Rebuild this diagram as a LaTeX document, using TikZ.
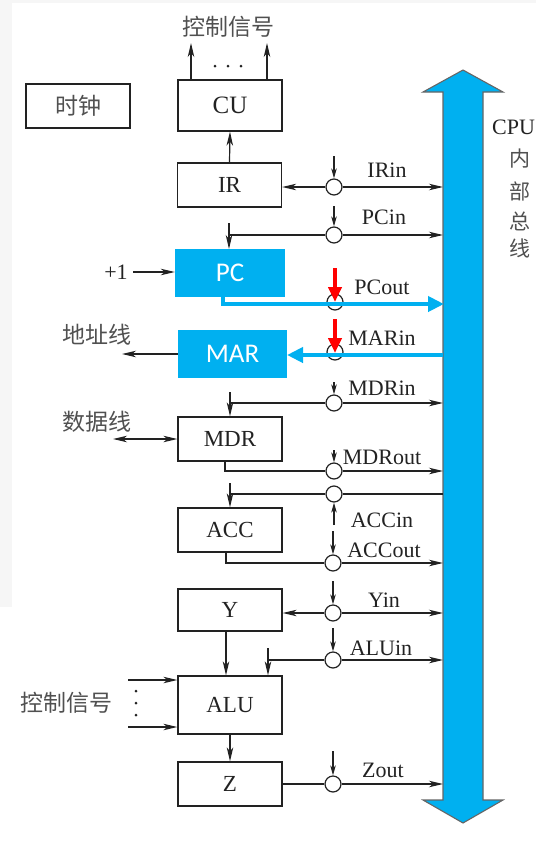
\documentclass[tikz,border=0pt]{standalone}
\usepackage{fontspec}
\setmainfont{Liberation Serif}
\newfontfamily\cjk{Noto Sans CJK SC}
\newfontfamily\calfont{Carlito}
\usetikzlibrary{arrows.meta}
\definecolor{busblue}{HTML}{00B0F0}
\definecolor{txtgray}{HTML}{505050}
\definecolor{lblack}{HTML}{222222}
\begin{document}
\begin{tikzpicture}[x=1pt,y=-1pt,
  reg/.style={draw=lblack, line width=1.3pt, minimum width=104pt, minimum height=44pt, inner sep=0pt, font=\fontsize{23}{23}\selectfont, text=lblack},
  bluereg/.style={fill=busblue, inner sep=0pt, text=white, font=\calfont\fontsize{27}{27}\selectfont},
  sw/.style={circle, draw=lblack, fill=white, minimum size=16pt, inner sep=0pt, line width=1.2pt},
  lbl/.style={font=\fontsize{22}{22}\selectfont, text=lblack, inner sep=0pt},
  zh/.style={font=\cjk\fontsize{23}{23}\selectfont, text=txtgray, inner sep=0pt},
  ln/.style={draw=lblack, line width=1.2pt},
  arr/.style={ln, -{Stealth[length=14pt,width=6.5pt,inset=4pt]}},
  arrb/.style={ln, {Stealth[length=14pt,width=6.5pt,inset=4pt]}-{Stealth[length=14pt,width=6.5pt,inset=4pt]}},
  carr/.style={ln, -{Stealth[length=10pt,width=5.5pt,inset=3pt]}},
  bluearr/.style={draw=busblue, line width=4.5pt, -{Triangle[length=16pt,width=15pt]}},
  redarr/.style={draw=red, line width=4.5pt, -{Triangle[length=15pt,width=13pt]}},
  dot/.style={circle, fill=lblack, inner sep=0pt, minimum size=3pt}
]
\useasboundingbox (0,0) rectangle (536,847);
\fill[gray!7] (0,0) rectangle (536,3);
\fill[gray!7] (0,0) rectangle (12,607);

% bus
\filldraw[fill=busblue, draw=gray!80!black, line width=1.1pt]
  (463,70) -- (503,92) -- (483,92) -- (483,800) -- (503,800) -- (463,823)
  -- (423,800) -- (443,800) -- (443,92) -- (423,92) -- cycle;
\node[lbl, anchor=west] (cpu) at (492,127) {CPU};
\node[zh, font=\cjk\fontsize{21}{21}\selectfont] (z1) at (520,159) {内};
\node[zh, font=\cjk\fontsize{21}{21}\selectfont] (z2) at (520,191) {部};
\node[zh, font=\cjk\fontsize{21}{21}\selectfont] (z3) at (520,221) {总};
\node[zh, font=\cjk\fontsize{21}{21}\selectfont] (z4) at (520,248) {线};

% clock
\node[reg, draw=lblack, font=\cjk\fontsize{23}{23}\selectfont, text=txtgray] (clk) at (78,106) {时钟};

% registers
\node[reg, minimum height=51pt, font=\fontsize{25}{25}\selectfont] (CU) at (230,105.5) {CU};
\node[reg] (IR) at (229.5,185) {IR};
\node[bluereg, minimum width=110pt, minimum height=48pt] (PC) at (230,273) {PC};
\node[bluereg, minimum width=109pt, minimum height=48pt] (MAR) at (232.5,354) {MAR};
\node[reg] (MDR) at (230,439) {MDR};
\node[reg] (ACC) at (230,530) {ACC};
\node[reg, minimum height=42pt] (Y) at (230,610) {Y};
\node[reg, minimum height=58pt] (ALU) at (230,705) {ALU};
\node[reg] (Z) at (230,784) {Z};

% top control signals
\node[zh] (ctop) at (228,27) {控制信号};
\coordinate (cu1) at (191,80); \coordinate (cu1t) at (191,43);
\coordinate (cu2) at (267,80); \coordinate (cu2t) at (267,43);
\draw[arr] (cu1) -- (cu1t);
\draw[arr] (cu2) -- (cu2t);
\node[dot] (d1) at (215,66) {};
\node[dot] (d2) at (228,66) {};
\node[dot] (d3) at (241,66) {};
\draw[arr] (IR.north) -- (CU.south);

% switches
\node[sw] (cIR) at (334,187) {};
\node[sw] (cPCin) at (334,235) {};
\node[sw] (cPCout) at (335,302) {};
\node[sw] (cMAR) at (335,352) {};
\node[sw] (cMDRin) at (334,403) {};
\node[sw] (cMDRout) at (334,471) {};
\node[sw] (cACCin) at (334,494) {};
\node[sw] (cACCout) at (333,563) {};
\node[sw] (cY) at (333,613) {};
\node[sw] (cALU) at (333,660) {};
\node[sw] (cZ) at (333,784) {};

% bus side coordinates
\coordinate (bIR) at (443,187);
\coordinate (bPCin) at (443,235);
\coordinate (bPCout) at (444,304);
\coordinate (bMAR) at (443,355);
\coordinate (bMDRin) at (443,403);
\coordinate (bMDRout) at (443,471);
\coordinate (bACCin) at (443,494);
\coordinate (bACCout) at (443,563);
\coordinate (bY) at (443,613);
\coordinate (bALU) at (443,660);
\coordinate (bZ) at (443,784);

% control arrow starts
\coordinate (kIR) at (334,156);
\coordinate (kPCin) at (334,206);
\coordinate (kMDRin) at (334,382);
\coordinate (kMDRout) at (334,450);
\coordinate (kACCin) at (334,525);
\coordinate (kACCout) at (333,531);
\coordinate (kY) at (333,581);
\coordinate (kALU) at (333,628);
\coordinate (kZ) at (333,751);

% IR
\draw[arr] (cIR) -- (cIR -| IR.east);
\draw[arr] (cIR) -- (bIR);
\draw[carr] (kIR) -- (cIR.north);
\node[lbl] (lIR) at (387,170) {IRin};

% PCin
\coordinate (pci) at (229,235);
\coordinate (pciT) at (229,223);
\coordinate (pciB) at (229,249);
\draw[ln] (cPCin) -- (pci);
\draw[arr] (pciT) -- (pciB);
\draw[arr] (cPCin) -- (bPCin);
\draw[carr] (kPCin) -- (cPCin.north);
\node[lbl] (lPCin) at (384,217) {PCin};

% +1
\node[lbl] (plus) at (116,272) {+1};
\coordinate (plusS) at (133,272);
\draw[arr] (plusS) -- (PC.west |- plusS);

% PCout
\coordinate (pco1) at (223,296);
\coordinate (pco2) at (223,304);
\draw[bluearr] (pco1) -- (pco2) -- (bPCout);
\coordinate (rPC) at (335,268);
\coordinate (rPCe) at (335,302);
\draw[redarr] (rPC) -- (rPCe);
\node[lbl] (lPCout) at (382,287) {PCout};

% MARin
\coordinate (marE) at (287,355);
\draw[bluearr] (bMAR) -- (marE);
\coordinate (rMAR) at (335,319);
\coordinate (rMARe) at (335,353);
\draw[redarr] (rMAR) -- (rMARe);
\node[lbl] (lMAR) at (382,338) {MARin};

% address line
\node[zh] (addr) at (97,335) {地址线};
\coordinate (addrE) at (122,354);
\draw[arr] (MAR.west) -- (addrE);

% MDRin
\coordinate (mdi) at (230,403);
\coordinate (mdiT) at (230,392);
\draw[ln] (cMDRin) -- (mdi);
\draw[arr] (mdiT) -- (MDR.north);
\draw[arr] (cMDRin) -- (bMDRin);
\draw[carr] (kMDRin) -- (cMDRin.north);
\node[lbl] (lMDRin) at (382,388) {MDRin};

% data line
\node[zh] (data) at (97,422) {数据线};
\coordinate (dataE) at (113,439);
\draw[arrb] (dataE) -- (MDR.west);

% MDRout
\coordinate (mdo1) at (225,461);
\coordinate (mdo2) at (225,471);
\draw[ln] (mdo1) -- (mdo2) -- (cMDRout);
\draw[arr] (cMDRout) -- (bMDRout);
\draw[carr] (kMDRout) -- (cMDRout.north);
\node[lbl] (lMDRout) at (382,457) {MDRout};

% ACCin
\coordinate (aci) at (230,494);
\coordinate (aciT) at (230,483);
\draw[ln] (bACCin) -- (cACCin) -- (aci);
\draw[arr] (aciT) -- (ACC.north);
\draw[carr] (kACCin) -- (cACCin.south);
\node[lbl] (lACCin) at (382,520) {ACCin};

% ACCout
\coordinate (aco1) at (226,552);
\coordinate (aco2) at (226,563);
\draw[ln] (aco1) -- (aco2) -- (cACCout);
\draw[arr] (cACCout) -- (bACCout);
\draw[carr] (kACCout) -- (cACCout.north);
\node[lbl] (lACCout) at (384,550) {ACCout};

% Y
\draw[arr] (cY) -- (cY -| Y.east);
\draw[arr] (cY) -- (bY);
\draw[carr] (kY) -- (cY.north);
\node[lbl] (lY) at (384,600) {Yin};

% ALUin
\coordinate (alu1) at (268,660);
\coordinate (alu1T) at (268,648);
\draw[ln] (cALU) -- (alu1);
\draw[arr] (alu1T) -- (alu1T |- ALU.north);
\draw[arr] (cALU) -- (bALU);
\draw[carr] (kALU) -- (cALU.north);
\node[lbl] (lALU) at (381,648) {ALUin};

% Y -> ALU
\coordinate (ya) at (226,631);
\draw[arr] (ya) -- (ya |- ALU.north);

% ALU controls
\node[zh] (cleft) at (66,703) {控制信号};
\coordinate (ac1) at (128,680);
\coordinate (ac2) at (128,727);
\draw[arr] (ac1) -- (ac1 -| ALU.west);
\draw[arr] (ac2) -- (ac2 -| ALU.west);
\node[dot] (e1) at (136,691) {};
\node[dot] (e2) at (136,703) {};
\node[dot] (e3) at (136,715) {};

% ALU -> Z
\draw[arr] (ALU.south) -- (Z.north);

% Zout
\draw[ln] (Z.east) -- (cZ);
\draw[arr] (cZ) -- (bZ);
\draw[carr] (kZ) -- (cZ.north);
\node[lbl] (lZ) at (383,770) {Zout};
\end{tikzpicture}
\end{document}
